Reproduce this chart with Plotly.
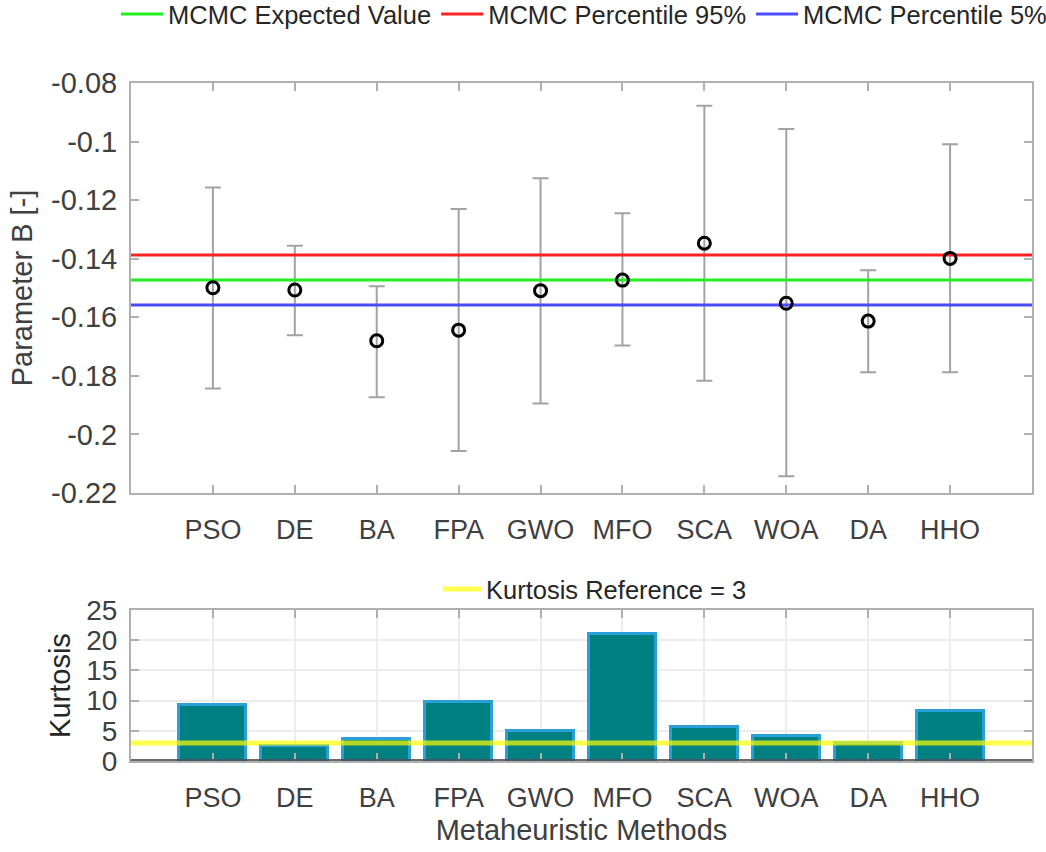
import plotly.graph_objects as go

methods = ["PSO", "DE", "BA", "FPA", "GWO", "MFO", "SCA", "WOA", "DA", "HHO"]
b_mean = [-0.1499, -0.1507, -0.1680, -0.1644, -0.1509, -0.1473, -0.1347, -0.1552, -0.1613, -0.1399]
b_upper = [-0.1157, -0.1356, -0.1494, -0.1230, -0.1125, -0.1245, -0.0878, -0.0957, -0.1439, -0.1009]
b_lower = [-0.1843, -0.1661, -0.1873, -0.2057, -0.1894, -0.1696, -0.1817, -0.2143, -0.1788, -0.1788]
mcmc_expected = -0.1473
mcmc_p95 = -0.1387
mcmc_p5 = -0.1558
kurtosis = [9.2, 2.5, 3.6, 9.7, 5.05, 21.0, 5.7, 4.1, 2.9, 8.2]
kurtosis_ref = 3
y_ticks_top = [-0.22, -0.2, -0.18, -0.16, -0.14, -0.12, -0.1, -0.08]
y_ticks_bottom = [0, 5, 10, 15, 20, 25]

xpos = list(range(1, len(methods) + 1))
err_plus = [u - m for u, m in zip(b_upper, b_mean)]
err_minus = [m - l for m, l in zip(b_mean, b_lower)]
xspan = [0, len(methods) + 1]

W, H = 1046, 852
FONT = "Liberation Sans, Arial, sans-serif"
TXT = "#404040"
AX = "#b0b0b0"

fig = go.Figure()

fig.add_trace(go.Scatter(
    x=xpos, y=b_mean, mode="markers",
    marker=dict(color="rgba(0,0,0,0)", size=1),
    error_y=dict(type="data", symmetric=False, array=err_plus, arrayminus=err_minus,
                 color="#a3a3a3", thickness=2, width=8),
    showlegend=False, hoverinfo="skip", xaxis="x", yaxis="y"))

for val, col, name in [(mcmc_expected, "#22ee22", "MCMC Expected Value"),
                       (mcmc_p95, "#ff2222", "MCMC Percentile 95%"),
                       (mcmc_p5, "#4b4bff", "MCMC Percentile 5%")]:
    fig.add_trace(go.Scatter(
        x=xspan, y=[val, val], mode="lines", line=dict(color=col, width=3),
        name=name, legend="legend", xaxis="x", yaxis="y"))

fig.add_trace(go.Scatter(
    x=xpos, y=b_mean, mode="markers",
    marker=dict(symbol="circle-open", color="black", size=12, line=dict(width=3, color="black")),
    showlegend=False, xaxis="x", yaxis="y"))

fig.add_trace(go.Bar(
    x=xpos, y=kurtosis, width=0.82,
    marker=dict(color="#008080", line=dict(color="#2a9fd8", width=3)),
    showlegend=False, xaxis="x2", yaxis="y2"))

fig.add_trace(go.Scatter(
    x=xspan, y=[kurtosis_ref, kurtosis_ref], mode="lines",
    line=dict(color="rgba(255,255,0,0.7)", width=5),
    name="Kurtosis Reference = 3", legend="legend2", xaxis="x2", yaxis="y2"))

common_x = dict(
    range=xspan, tickmode="array", tickvals=xpos, ticktext=methods,
    showline=True, linecolor=AX, linewidth=2, mirror="ticks",
    ticks="inside", ticklen=8, tickcolor=AX, tickwidth=1.5,
    tickfont=dict(family=FONT, size=27, color=TXT), zeroline=False,
    ticklabelstandoff=12, automargin=False,
)
common_y = dict(
    showline=True, linecolor=AX, linewidth=2, mirror="ticks",
    ticks="inside", ticklen=8, tickcolor=AX, tickwidth=1.5,
    zeroline=False, ticklabelstandoff=6, automargin=False,
)

xdom = [131 / W, 1032 / W]

fig.update_layout(
    width=W, height=H,
    margin=dict(l=0, r=0, t=0, b=0, autoexpand=False),
    paper_bgcolor="white", plot_bgcolor="white",
    font=dict(family=FONT, color=TXT),
    xaxis=dict(domain=xdom, anchor="y", showgrid=False, **common_x),
    yaxis=dict(domain=[1 - 493 / H, 1 - 83 / H], anchor="x", range=[-0.22, -0.08],
               tickvals=y_ticks_top, ticktext=[f"{v:g}" for v in y_ticks_top],
               showgrid=False, tickfont=dict(family=FONT, size=29, color=TXT),
               title=dict(text="Parameter B [-]", font=dict(family=FONT, size=29, color=TXT), standoff=10),
               **common_y),
    xaxis2=dict(domain=xdom, anchor="y2", showgrid=True, gridcolor="#ececec", gridwidth=2,
                title=dict(text="Metaheuristic Methods", font=dict(family=FONT, size=29, color=TXT), standoff=7),
                **common_x),
    yaxis2=dict(domain=[1 - 761 / H, 1 - 610 / H], anchor="x2", range=[0, 25], tickvals=y_ticks_bottom,
                showgrid=True, gridcolor="#ececec", gridwidth=2,
                tickfont=dict(family=FONT, size=28, color=TXT),
                title=dict(text="Kurtosis", font=dict(family=FONT, size=29, color="#262626"), standoff=7),
                **common_y),
    legend=dict(orientation="h", x=116 / W, xanchor="left", y=1 + 9 / H, yanchor="top",
                font=dict(family=FONT, size=25.5, color="#262626"), bgcolor="rgba(0,0,0,0)",
                itemwidth=42, tracegroupgap=0),
    legend2=dict(orientation="h", x=438 / W, xanchor="left", y=1 - 566 / H, yanchor="top",
                 font=dict(family=FONT, size=25.5, color="#262626"), bgcolor="rgba(0,0,0,0)",
                 itemwidth=38),
    shapes=[dict(type="line", xref="x2 domain", yref="y2", x0=0, x1=1, y0=0, y1=0,
                 line=dict(color="rgba(70,70,70,0.8)", width=4), layer="above")],
    bargap=0,
)

fig.write_html("out.html", config={"displayModeBar": False},
               post_script="document.body.style.margin='0px';document.body.style.overflow='hidden';")
